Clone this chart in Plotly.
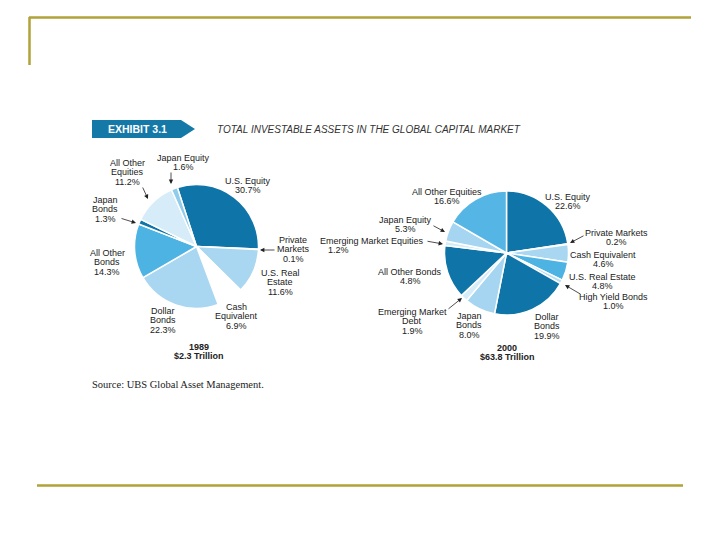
import plotly.graph_objects as go

# 1989 pie
labels_1989 = ['U.S. Equity', 'Private Markets', 'U.S. Real Estate', 'Cash Equivalent',
               'Dollar Bonds', 'All Other Bonds', 'Japan Bonds', 'All Other Equities',
               'Japan Equity']
values_1989 = [30.7, 0.1, 11.6, 6.9, 22.3, 14.3, 1.3, 11.2, 1.6]
colors_1989 = ['#0f75a8', '#4cb3e3', '#a9d7f1', '#ffffff', '#a9d7f1', '#4cb3e3',
               '#0f75a8', '#d6ecf8', '#8fcbea']

# 2000 pie (All Other Bonds printed as 4.8%, slice drawn at ~13.9%)
labels_2000 = ['U.S. Equity', 'Private Markets', 'Cash Equivalent', 'U.S. Real Estate',
               'High Yield Bonds', 'Dollar Bonds', 'Japan Bonds', 'Emerging Market Debt',
               'All Other Bonds', 'Emerging Market Equities', 'Japan Equity',
               'All Other Equities']
values_2000 = [22.6, 0.2, 4.6, 4.8, 1.0, 19.9, 8.0, 1.9, 13.9, 1.2, 5.3, 16.6]
printed_2000 = ['22.6%', '0.2%', '4.6%', '4.8%', '1.0%', '19.9%', '8.0%', '1.9%',
                '4.8%', '1.2%', '5.3%', '16.6%']
colors_2000 = ['#0f75a8', '#5ab8e6', '#a9d7f1', '#4cb3e3', '#b8def4', '#0f75a8',
               '#a5d5f0', '#d6ecf8', '#0f75a8', '#d6ecf8', '#a5d5f0', '#55b6e5']

W, H = 720, 540
FONT = 'Arial, Liberation Sans, sans-serif'
GOLD = '#b1a23a'


def px(x):
    return x / W


def py(y):
    return 1 - y / H


fig = go.Figure()

fig.add_trace(go.Pie(
    labels=labels_1989, values=values_1989, sort=False, direction='clockwise',
    rotation=-18, textinfo='none', hoverinfo='label+value',
    marker=dict(colors=colors_1989, line=dict(color='white', width=1.5)),
    domain=dict(x=[px(134.5), px(258.5)], y=[py(308.5), py(184.5)]),
    showlegend=False,
))
fig.add_trace(go.Pie(
    labels=labels_2000, values=values_2000, sort=False, direction='clockwise',
    rotation=0, textinfo='none', hoverinfo='label+value',
    marker=dict(colors=colors_2000, line=dict(color='white', width=1.5)),
    domain=dict(x=[px(444.5), px(568.5)], y=[py(315), py(191)]),
    showlegend=False,
))

annotations = []


def add_label(lines, x, y0, pitch=9.3, bold=False, size=9):
    for i, line in enumerate(lines):
        txt = '<b>%s</b>' % line if bold else line
        annotations.append(dict(
            x=px(x), y=py(y0 + i * pitch), xref='paper', yref='paper',
            text=txt, showarrow=False, xanchor='center', yanchor='middle',
            font=dict(family=FONT, size=size, color='#222222')))


def add_arrow(xh, yh, xt, yt):
    annotations.append(dict(
        x=px(xh), y=py(yh), xref='paper', yref='paper', text='',
        showarrow=True, ax=xt - xh, ay=yt - yh, arrowhead=2, arrowsize=1.1,
        arrowwidth=0.8, arrowcolor='#222222'))


# 1989 labels
add_label(['Japan Equity', '1.6%'], 183, 158)
add_arrow(171, 184, 171, 171)
add_label(['All Other', 'Equities', '11.2%'], 127, 163)
add_arrow(148, 199, 142, 186)
add_label(['Japan', 'Bonds', '1.3%'], 105, 200)
add_arrow(136, 223, 120, 218)
add_label(['U.S. Equity', '30.7%'], 248, 181)
add_label(['Private', 'Markets', '0.1%'], 293, 240)
add_arrow(260, 250, 276, 250)
add_label(['U.S. Real', 'Estate', '11.6%'], 280, 273)
add_label(['Cash', 'Equivalent', '6.9%'], 236, 307)
add_label(['Dollar', 'Bonds', '22.3%'], 163, 311)
add_label(['All Other', 'Bonds', '14.3%'], 107, 253)
add_label(['1989', '$2.3 Trillion'], 199, 347, bold=True)

# 2000 labels
add_label(['All Other Equities', printed_2000[11]], 447, 192)
add_label(['U.S. Equity', printed_2000[0]], 568, 197)
add_label(['Japan Equity', printed_2000[10]], 405, 220)
add_arrow(445, 232, 432, 225)
add_label(['Emerging Market Equities'], 372, 241)
add_label([printed_2000[9]], 338, 250)
add_arrow(443, 244, 426, 241)
add_label(['Private Markets', printed_2000[1]], 616, 233)
add_arrow(570, 243, 585, 235)
add_label(['Cash Equivalent', printed_2000[2]], 603, 255)
add_label(['All Other Bonds', printed_2000[8]], 410, 272)
add_label(['U.S. Real Estate', printed_2000[3]], 602, 277)
add_label(['High Yield Bonds', printed_2000[4]], 613, 297)
add_arrow(565, 285, 582, 295)
add_label(['Emerging Market', 'Debt', printed_2000[7]], 412, 312)
add_arrow(462, 298, 447, 310)
add_label(['Japan', 'Bonds', printed_2000[6]], 469, 316)
add_label(['Dollar', 'Bonds', printed_2000[5]], 547, 317)
add_label(['2000', '$63.8 Trillion'], 507, 348, bold=True)

# header
annotations.append(dict(
    x=px(137), y=py(129), xref='paper', yref='paper', text='<b>EXHIBIT 3.1</b>',
    showarrow=False, xanchor='center', yanchor='middle',
    font=dict(family=FONT, size=10.5, color='white')))
annotations.append(dict(
    x=px(215), y=py(129), xref='paper', yref='paper',
    text='<i>TOTAL INVESTABLE ASSETS IN THE GLOBAL CAPITAL MARKET</i>',
    showarrow=False, xanchor='left', yanchor='middle',
    font=dict(family=FONT, size=10, color='#333333')))
annotations.append(dict(
    x=px(90), y=py(384), xref='paper', yref='paper',
    text='Source: UBS Global Asset Management.',
    showarrow=False, xanchor='left', yanchor='middle',
    font=dict(family='Liberation Serif, Times New Roman, serif', size=10.5,
              color='#222222')))

shapes = [
    dict(type='path', xref='paper', yref='paper', line=dict(width=0),
         fillcolor='#1579a8',
         path='M %f,%f L %f,%f L %f,%f L %f,%f L %f,%f Z' % (
             px(92), py(120), px(181), py(120), px(195), py(129),
             px(181), py(138), px(92), py(138))),
    dict(type='line', xref='paper', yref='paper', x0=px(29), y0=py(17.5),
         x1=px(691), y1=py(17.5), line=dict(color=GOLD, width=2.5)),
    dict(type='line', xref='paper', yref='paper', x0=px(29.5), y0=py(17),
         x1=px(29.5), y1=py(65), line=dict(color=GOLD, width=2.5)),
    dict(type='line', xref='paper', yref='paper', x0=px(37), y0=py(485.5),
         x1=px(683), y1=py(485.5), line=dict(color=GOLD, width=2.5)),
]

fig.update_layout(
    width=W, height=H,
    margin=dict(l=0, r=0, t=0, b=0),
    paper_bgcolor='white', plot_bgcolor='white',
    annotations=annotations, shapes=shapes,
)

# page body has an 8px default margin; drop it so the figure fills the window
fig.write_html('out.html', config={'displayModeBar': False},
               post_script="document.body.style.margin = '0';")
